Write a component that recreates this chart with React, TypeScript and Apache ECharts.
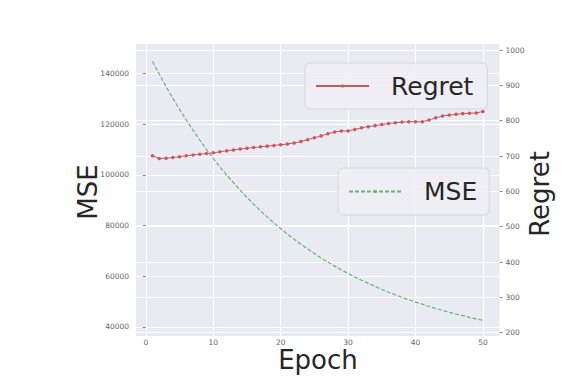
import React, { useEffect, useRef } from "react";
import * as echarts from "echarts";

const epochs = [
  1, 2, 3, 4, 5, 6, 7, 8, 9, 10, 11, 12, 13, 14, 15, 16, 17, 18, 19, 20, 21, 22, 23, 24, 25,
  26, 27, 28, 29, 30, 31, 32, 33, 34, 35, 36, 37, 38, 39, 40, 41, 42, 43, 44, 45, 46, 47, 48, 49, 50,
];
const mseValues = [
  144700, 139700, 134800, 130200, 125800, 121600, 117600, 113700, 110000, 106500,
  103100, 99900, 96900, 93900, 91100, 88400, 85800, 83400, 81000, 78800,
  76600, 74600, 72600, 70800, 69000, 67200, 65600, 64000, 62500, 61100,
  59700, 58400, 57200, 56000, 54800, 53700, 52700, 51700, 50700, 49800,
  49000, 48100, 47300, 46600, 45800, 45100, 44500, 43800, 43200, 42600,
];
const regretValues = [
  701, 693, 694, 696, 698, 701, 703, 705, 707, 709,
  712, 715, 717, 720, 722, 724, 726, 728, 730, 732,
  734, 737, 741, 746, 752, 757, 763, 768, 771, 771,
  775, 780, 783, 786, 789, 792, 794, 796, 797, 797,
  797, 802, 808, 813, 816, 818, 820, 821, 822, 826,
];
const xTicks = [0, 10, 20, 30, 40, 50];
const mseTicks = [40000, 60000, 80000, 100000, 120000, 140000];
const regretTicks = [200, 300, 400, 500, 600, 700, 800, 900, 1000];

const FONT = "DejaVu Sans";
const RED = "#C85A5E";
const GREEN = "#6AB47C";

export default function App() {
  const ref = useRef<HTMLDivElement>(null);
  useEffect(() => {
    document.body.style.margin = "0";
    const chart = echarts.init(ref.current!, null, { renderer: "svg" });
    const tickLabel = {
      fontFamily: FONT,
      fontSize: 7.5,
      color: "#666",
      formatter: (v: number) => String(v),
    };
    const legendBase = {
      orient: "horizontal",
      itemWidth: 53,
      itemHeight: 4,
      selectedMode: false,
      backgroundColor: "rgba(238,238,245,0.85)",
      borderColor: "#d5d5de",
      borderWidth: 1,
      borderRadius: 5,
      textStyle: {
        fontFamily: FONT,
        fontSize: 25,
        lineHeight: 25,
        color: "#262626",
        padding: [0, 0, 0, 17],
      },
    };
    chart.setOption({
      animation: false,
      backgroundColor: "#ffffff",
      grid: {
        left: 136,
        top: 44,
        width: 363.5,
        height: 292,
        show: true,
        backgroundColor: "#EAEAF2",
        borderWidth: 0,
      },
      xAxis: {
        type: "value",
        min: -1.45,
        max: 52.45,
        axisLine: { show: false },
        axisTick: { show: false, customValues: xTicks },
        axisLabel: { ...tickLabel, margin: 2, customValues: xTicks },
        splitLine: { show: true, lineStyle: { color: "#ffffff", width: 1 } },
      },
      yAxis: [
        {
          type: "value",
          position: "left",
          min: 36452,
          max: 151549,
          axisLine: { show: false },
          axisTick: { show: true, length: 3, lineStyle: { color: "#888" }, customValues: mseTicks },
          axisLabel: { ...tickLabel, margin: 7, customValues: mseTicks },
          splitLine: { show: true, lineStyle: { color: "#ffffff", width: 1 } },
        },
        {
          type: "value",
          position: "right",
          min: 190.7,
          max: 1017,
          axisLine: { show: false },
          axisTick: { show: true, length: 3, lineStyle: { color: "#888" }, customValues: regretTicks },
          axisLabel: { ...tickLabel, margin: 6, customValues: regretTicks },
          splitLine: { show: true, lineStyle: { color: "#ffffff", width: 1 } },
        },
      ],
      legend: [
        { ...legendBase, data: ["Regret"], left: 305, top: 63, padding: [10.5, 14, 10.5, 10] },
        { ...legendBase, data: ["MSE"], left: 338, top: 168, padding: [11, 12, 11, 10] },
      ],
      series: [
        {
          name: "MSE",
          type: "line",
          yAxisIndex: 0,
          data: epochs.map((e, i) => [e, mseValues[i]]),
          showSymbol: false,
          symbol: "none",
          lineStyle: { color: GREEN, width: 1.2, type: [4, 2] },
          itemStyle: { color: GREEN },
        },
        {
          name: "Regret",
          type: "line",
          yAxisIndex: 1,
          data: epochs.map((e, i) => [e, regretValues[i]]),
          symbol: "circle",
          symbolSize: 3.5,
          lineStyle: { color: RED, width: 1 },
          itemStyle: { color: RED },
        },
      ],
      graphic: [
        {
          type: "text",
          x: 318,
          y: 360,
          style: {
            text: "Epoch",
            fontFamily: FONT,
            fontSize: 26,
            fill: "#262626",
            align: "center",
            verticalAlign: "middle",
          },
        },
        {
          type: "text",
          x: 88,
          y: 192,
          rotation: Math.PI / 2,
          style: {
            text: "MSE",
            fontFamily: FONT,
            fontSize: 26,
            fill: "#262626",
            align: "center",
            verticalAlign: "middle",
          },
        },
        {
          type: "text",
          x: 540,
          y: 194,
          rotation: Math.PI / 2,
          style: {
            text: "Regret",
            fontFamily: FONT,
            fontSize: 26,
            fill: "#262626",
            align: "center",
            verticalAlign: "middle",
          },
        },
      ],
    });
    return () => chart.dispose();
  }, []);
  return <div ref={ref} style={{ width: 571, height: 387 }} />;
}
